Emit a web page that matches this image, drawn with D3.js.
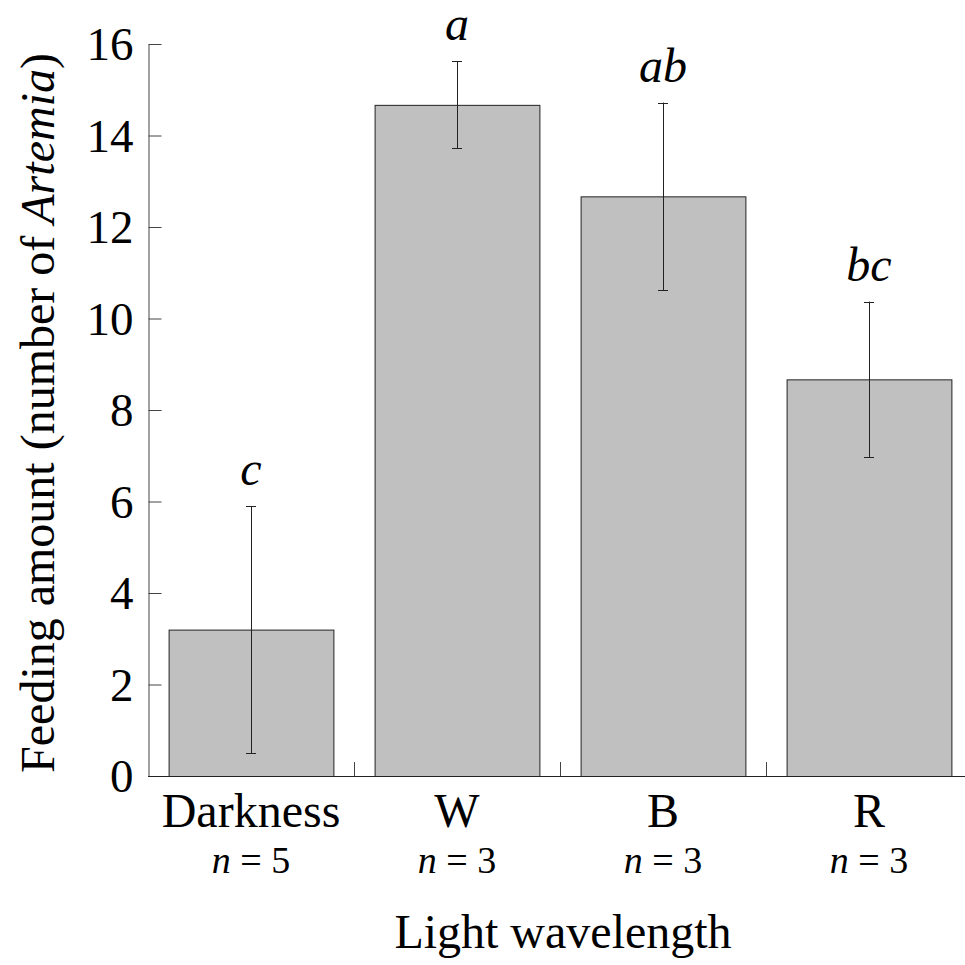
<!DOCTYPE html>
<html>
<head>
<meta charset="utf-8">
<script src="https://cdn.jsdelivr.net/npm/d3@7"></script>
<style>
  body { margin: 0; background: #fff; }
  text { font-family: "Liberation Serif", "Times New Roman", serif; fill: #000; }
</style>
</head>
<body>
<div id="chart"></div>
<script>
// Feeding amount by light wavelength, mean ± error, with significance letters
const categories = ["Darkness", "W", "B", "R"];
const sampleSizes = [5, 3, 3, 3];
const means = [3.2, 14.67, 12.67, 8.67];
const errors = [2.7, 0.95, 2.05, 1.7];
const sigLetters = ["c", "a", "ab", "bc"];
const yTicks = [0, 2, 4, 6, 8, 10, 12, 14, 16];

const width = 965, height = 965;
const margin = { top: 44, right: -7, bottom: 189, left: 148 };

const rows = categories.map((c, i) => ({
  cat: c, n: sampleSizes[i], mean: means[i], err: errors[i], sig: sigLetters[i]
}));

const svg = d3.select("#chart").append("svg")
  .attr("width", width)
  .attr("height", height);

const x = d3.scaleBand()
  .domain(categories)
  .range([margin.left, width - margin.right])
  .paddingInner(0.2)
  .paddingOuter(0.1);

const y = d3.scaleLinear()
  .domain([0, 16])
  .range([height - margin.bottom, margin.top]);

const y0 = y(0);
const cx = d => x(d.cat) + x.bandwidth() / 2;

// bars
svg.selectAll(".bar")
  .data(rows)
  .join("rect")
  .attr("class", "bar")
  .attr("x", d => x(d.cat) + 0.5)
  .attr("y", d => y(d.mean) + 0.5)
  .attr("width", x.bandwidth())
  .attr("height", d => y0 - y(d.mean))
  .attr("fill", "#c0c0c0")
  .attr("stroke", "#222")
  .attr("stroke-width", 1);

// error bars
const cap = 5;
const eb = svg.selectAll(".err")
  .data(rows)
  .join("g")
  .attr("class", "err")
  .attr("stroke", "#222")
  .attr("stroke-width", 1);

eb.append("line")
  .attr("x1", d => Math.round(cx(d)) + 0.5)
  .attr("x2", d => Math.round(cx(d)) + 0.5)
  .attr("y1", d => y(d.mean + d.err))
  .attr("y2", d => y(d.mean - d.err));

eb.append("line")
  .attr("x1", d => cx(d) - cap)
  .attr("x2", d => cx(d) + cap)
  .attr("y1", d => Math.round(y(d.mean + d.err)) + 0.5)
  .attr("y2", d => Math.round(y(d.mean + d.err)) + 0.5);

eb.append("line")
  .attr("x1", d => cx(d) - cap)
  .attr("x2", d => cx(d) + cap)
  .attr("y1", d => Math.round(y(d.mean - d.err)) + 0.5)
  .attr("y2", d => Math.round(y(d.mean - d.err)) + 0.5);

// significance letters
svg.selectAll(".sig")
  .data(rows)
  .join("text")
  .attr("class", "sig")
  .attr("x", d => cx(d))
  .attr("y", d => y(d.mean + d.err) - 21)
  .attr("text-anchor", "middle")
  .style("font-size", "48px")
  .style("font-style", "italic")
  .text(d => d.sig);

// y axis, ticks pointing inward
const yAxis = svg.append("g")
  .attr("transform", `translate(${margin.left + 0.5},0)`)
  .call(d3.axisLeft(y).tickValues(yTicks).tickSize(-13).tickSizeOuter(0).tickPadding(15));

yAxis.select(".domain").attr("stroke", "#444");
yAxis.selectAll(".tick line").attr("stroke", "#444");
yAxis.selectAll(".tick text")
  .style("font-size", "47px")
  .style("font-family", "Liberation Serif, serif")
  .attr("fill", "#000")
  .attr("dy", "0.34em");

// x axis line with inward ticks at band boundaries
const xAxisG = svg.append("g").attr("stroke", "#222");
xAxisG.append("line")
  .attr("x1", margin.left)
  .attr("x2", width)
  .attr("y1", y0 + 0.5)
  .attr("y2", y0 + 0.5);

const bounds = categories.slice(1).map(c => x(c) - x.step() * x.paddingInner() / 2);
xAxisG.selectAll(".xtick")
  .data(bounds)
  .join("line")
  .attr("class", "xtick")
  .attr("stroke", "#444")
  .attr("x1", d => Math.round(d) + 0.5)
  .attr("x2", d => Math.round(d) + 0.5)
  .attr("y1", y0)
  .attr("y2", y0 - 14);

// category labels
svg.selectAll(".cat")
  .data(rows)
  .join("text")
  .attr("class", "cat")
  .attr("x", d => cx(d))
  .attr("y", 827)
  .attr("text-anchor", "middle")
  .style("font-size", "48px")
  .text(d => d.cat);

// sample sizes
const nText = svg.selectAll(".nlab")
  .data(rows)
  .join("text")
  .attr("class", "nlab")
  .attr("x", d => cx(d))
  .attr("y", 873)
  .attr("text-anchor", "middle")
  .style("font-size", "38px");
nText.append("tspan").style("font-style", "italic").text("n");
nText.append("tspan").text(d => " = " + d.n);

// axis titles
svg.append("text")
  .attr("x", 563)
  .attr("y", 948)
  .attr("text-anchor", "middle")
  .style("font-size", "48px")
  .text("Light wavelength");

const yTitle = svg.append("text")
  .attr("transform", `translate(54,${(margin.top + y0) / 2 + 3}) rotate(-90)`)
  .attr("text-anchor", "middle")
  .style("font-size", "48px");
yTitle.append("tspan").text("Feeding amount (number of ");
yTitle.append("tspan").style("font-style", "italic").text("Artemia");
yTitle.append("tspan").text(")");
</script>
</body>
</html>
